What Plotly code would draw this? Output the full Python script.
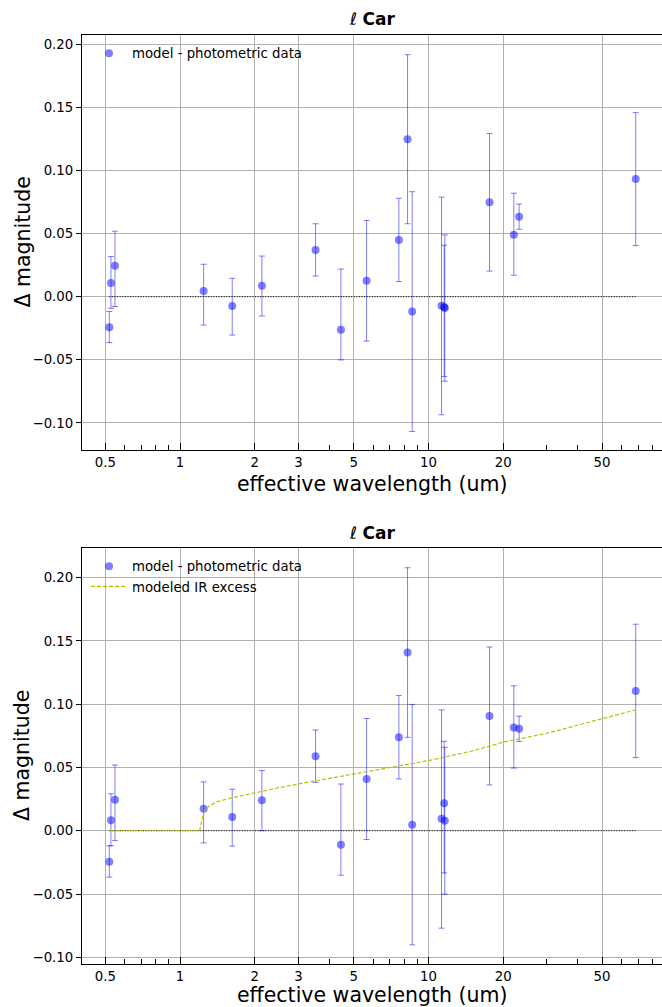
import plotly.graph_objects as go

# ---------------- data ----------------
wavelength = [0.519, 0.527, 0.547, 1.244, 1.622, 2.136, 3.513, 4.442, 5.636, 7.603,
              8.239, 8.60, 11.29, 11.57, 11.64, 17.62, 22.07, 23.18, 68.33]
delta_top = [-0.0242, 0.0108, 0.0245, 0.0045, -0.0074, 0.0087, 0.0371, -0.0261, 0.0126, 0.0450,
             0.1248, -0.0118, -0.0071, -0.0082, -0.0090, 0.0748, 0.0490, 0.0634, 0.0932]
delta_bottom = [-0.0245, 0.0082, 0.0245, 0.0174, 0.0108, 0.0240, 0.0589, -0.0111, 0.0409, 0.0739,
                0.1408, 0.0048, 0.0095, 0.0217, 0.0079, 0.0907, 0.0815, 0.0805, 0.1105]
err_plus = [0.0125, 0.0210, 0.0274, 0.0212, 0.0220, 0.0235, 0.0207, 0.0480, 0.0478, 0.0330,
            0.0670, 0.0950, 0.0860, 0.0490, 0.0580, 0.0545, 0.0330, 0.0100, 0.0527]
err_minus = [0.0122, 0.0200, 0.0323, 0.0270, 0.0230, 0.0240, 0.0207, 0.0240, 0.0478, 0.0330,
             0.0670, 0.0950, 0.0865, 0.0550, 0.0580, 0.0545, 0.0320, 0.0100, 0.0527]

ir_wavelength = [0.519, 1.20, 1.22, 1.25, 1.30, 1.40, 1.60, 2.0, 2.5, 3.0, 4.0, 5.0,
                 7.0, 10.0, 15.0, 20.0, 30.0, 50.0, 68.33]
ir_excess = [0.0, 0.0, 0.007, 0.015, 0.019, 0.0228, 0.0258, 0.0300, 0.034, 0.037, 0.0414, 0.0454,
             0.0505, 0.0554, 0.063, 0.070, 0.077, 0.0881, 0.0955]

x_major = [0.5, 1, 2, 3, 5, 10, 20, 50]
x_major_text = ["0.5", "1", "2", "3", "5", "10", "20", "50"]
x_minor = [0.6, 0.7, 0.8, 0.9, 4, 6, 7, 8, 9, 30, 40, 60, 70, 80]
y_ticks = [-0.10, -0.05, 0.0, 0.05, 0.10, 0.15, 0.20]

# ---------------- style ----------------
FONT = "DejaVu Sans"
W, H = 662, 1007
PT_BLUE = "rgba(0,0,255,0.5)"
ERR_BLUE = "rgba(0,0,255,0.5)"
GRID = "#b0b0b0"

def py(pix):
    return 1 - pix / H

x_dom = [82 / W, 1.0]
top_dom = [py(450), py(35)]
bot_dom = [py(964), py(548)]
x_range = [-0.3948, 1.9404]

fig = go.Figure()

def add_panel(xa, ya, values, legend_name, with_ir):
    fig.add_trace(go.Scatter(
        x=[min(wavelength), max(wavelength)], y=[0, 0], mode="lines",
        line=dict(color="black", width=1, dash="1px,1.6px"),
        showlegend=False, hoverinfo="skip", xaxis=xa, yaxis=ya))
    fig.add_trace(go.Scatter(
        x=wavelength, y=values, mode="markers",
        marker=dict(color=PT_BLUE, size=8, line=dict(width=0)),
        error_y=dict(type="data", symmetric=False, array=err_plus, arrayminus=err_minus,
                     color=ERR_BLUE, thickness=1, width=3),
        name="model - photometric data", legend=legend_name, xaxis=xa, yaxis=ya))
    if with_ir:
        fig.add_trace(go.Scatter(
            x=ir_wavelength, y=ir_excess, mode="lines",
            line=dict(color="#bfbf00", width=1.2, dash="4px,2px"),
            name="modeled IR excess", legend=legend_name, xaxis=xa, yaxis=ya))

add_panel("x", "y", delta_top, "legend", False)
add_panel("x2", "y2", delta_bottom, "legend2", True)

def xaxis(anchor):
    return dict(domain=x_dom, anchor=anchor, type="log", range=x_range,
                tickmode="array", tickvals=x_major, ticktext=x_major_text,
                ticks="inside", ticklen=7, tickwidth=1, tickcolor="black",
                showgrid=True, gridcolor=GRID, gridwidth=1.1,
                showline=True, linecolor="black", linewidth=1.2, mirror=True,
                tickfont=dict(family=FONT, size=13.3, color="black"),
                minor=dict(tickmode="array", tickvals=x_minor, ticks="inside",
                           ticklen=5, tickwidth=1, tickcolor="black", showgrid=False),
                zeroline=False)

def yaxis(anchor, dom, rng):
    return dict(domain=dom, anchor=anchor, range=rng, tickmode="array", tickvals=y_ticks,
                tickformat=".2f", ticks="outside", ticklen=5, tickwidth=1, tickcolor="black",
                showgrid=True, gridcolor=GRID, gridwidth=1.1, zeroline=False,
                showline=True, linecolor="black", linewidth=1.2,
                tickfont=dict(family=FONT, size=13.3, color="black"))

ann = []
xc = (x_dom[0] + x_dom[1]) / 2
for ty, xl_y, yl_y in [(19, 484, 242.5), (533, 995, 756)]:
    ann.append(dict(text="ℓ <b>Car</b>", x=xc, y=py(ty), xref="paper", yref="paper",
                    showarrow=False, xanchor="center", yanchor="middle",
                    font=dict(family=FONT, size=17, color="black")))
    ann.append(dict(text="effective wavelength (um)", x=xc, y=py(xl_y), xref="paper", yref="paper",
                    showarrow=False, xanchor="center", yanchor="middle",
                    font=dict(family=FONT, size=20.5, color="black")))
    ann.append(dict(text="Δ magnitude", x=22 / W, y=py(yl_y), xref="paper", yref="paper",
                    showarrow=False, xanchor="center", yanchor="middle", textangle=-90,
                    font=dict(family=FONT, size=20.5, color="black")))

fig.update_layout(
    width=W, height=H, margin=dict(l=0, r=0, t=0, b=0),
    paper_bgcolor="white", plot_bgcolor="white",
    font=dict(family=FONT, size=13.3, color="black"),
    xaxis=xaxis("y"), yaxis=yaxis("x", top_dom, [-0.1215, 0.2074]),
    xaxis2=xaxis("y2"), yaxis2=yaxis("x2", bot_dom, [-0.1053, 0.2234]),
    legend=dict(x=86 / W, y=py(38), xanchor="left", yanchor="top",
                bgcolor="rgba(0,0,0,0)", borderwidth=0, itemwidth=36,
                font=dict(family=FONT, size=13.3, color="black")),
    legend2=dict(x=86 / W, y=py(551), xanchor="left", yanchor="top",
                 bgcolor="rgba(0,0,0,0)", borderwidth=0, tracegroupgap=0, itemwidth=36,
                 font=dict(family=FONT, size=13.3, color="black")),
    annotations=ann, showlegend=True,
)

fig.write_html("out.html")
